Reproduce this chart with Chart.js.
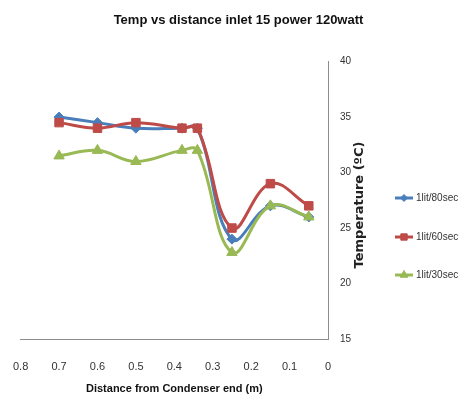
<!DOCTYPE html>
<html>
<head>
<meta charset="utf-8">
<script src="https://cdn.jsdelivr.net/npm/chart.js@4/dist/chart.umd.min.js"></script>
<style>
html,body{margin:0;padding:0;background:#fff;}
#wrap{width:462px;height:406px;}
</style>
</head>
<body>
<div id="wrap"><canvas id="c" width="462" height="406"></canvas></div>
<script>
const distances = [0.7, 0.6, 0.5, 0.38, 0.34, 0.25, 0.15, 0.05];
const seriesNames = ['1lit/80sec', '1lit/60sec', '1lit/30sec'];
const temp80 = [35, 34.5, 34, 34, 34, 24, 27, 26];
const temp60 = [34.5, 34, 34.5, 34, 34, 25, 29, 27];
const temp30 = [31.5, 32, 31, 32, 32, 22.8, 27, 26];
const yTicks = [15, 20, 25, 30, 35, 40];
const xTicks = [0.8, 0.7, 0.6, 0.5, 0.4, 0.3, 0.2, 0.1, 0];

const colors = ['#4A7EBB', '#BE4B48', '#98B954'];
const shapes = ['rectRot', 'rect', 'triangle'];
const radii = [5, 6, 6];
const drawOrder = [2, 1, 0];
const sans = "'Liberation Sans', Arial, sans-serif";

function pts(vals){ return distances.map((d,i)=>({x:d, y:vals[i]})); }

const allSeries = [temp80, temp60, temp30];
const datasets = allSeries.map((v,i)=>({
  label: seriesNames[i],
  data: pts(v),
  order: drawOrder[i],
  borderColor: colors[i],
  backgroundColor: colors[i],
  borderWidth: 3,
  pointStyle: shapes[i],
  pointRadius: radii[i],
  pointHoverRadius: radii[i],
  pointBorderWidth: 1,
  tension: 0.4,
  fill: false
}));

const customDraw = {
  id: 'customDraw',
  afterDraw(chart){
    const ctx = chart.ctx;
    ctx.save();
    ctx.translate(360, 205);
    ctx.rotate(-Math.PI/2);
    ctx.font = "bold 13px 'DejaVu Sans', Verdana, sans-serif";
    ctx.fillStyle = '#222';
    ctx.textAlign = 'center';
    ctx.textBaseline = 'middle';
    ctx.fillText('Temperature (ºC)', 0, 0);
    ctx.restore();

    const ys = [198, 237, 275];
    chart.data.datasets.forEach((ds, i)=>{
      const y = ys[i];
      ctx.save();
      ctx.strokeStyle = ds.borderColor;
      ctx.lineWidth = 3;
      ctx.beginPath();
      ctx.moveTo(395, y); ctx.lineTo(413, y);
      ctx.stroke();
      ctx.fillStyle = ds.backgroundColor;
      ctx.lineWidth = 1;
      Chart.helpers.drawPoint(ctx, {pointStyle: ds.pointStyle, radius: ds.pointRadius - 1.5, rotation: 0, borderWidth: 1}, 404, y);
      ctx.font = "10px " + sans;
      ctx.fillStyle = '#333';
      ctx.textAlign = 'left';
      ctx.textBaseline = 'middle';
      ctx.fillText(ds.label, 416, y);
      ctx.restore();
    });
  }
};

new Chart(document.getElementById('c'), {
  type: 'line',
  data: { datasets },
  plugins: [customDraw],
  options: {
    responsive: false,
    animation: false,
    layout: { padding: { left: 15, right: 0, top: 0, bottom: 0 } },
    plugins: {
      legend: { display: false },
      tooltip: { enabled: false },
      title: {
        display: true,
        text: 'Temp vs distance inlet 15 power 120watt',
        color: '#111',
        font: { family: sans, size: 13, weight: 'bold' },
        padding: { top: 13, bottom: 33 }
      }
    },
    scales: {
      x: {
        type: 'linear',
        reverse: true,
        min: 0, max: 0.8,
        afterBuildTicks(scale){ scale.ticks = xTicks.map(v=>({value:v})); },
        afterFit(scale){ scale.height = 67; },
        ticks: {
          color: '#333',
          font: { family: sans, size: 11 },
          padding: 13,
          maxRotation: 0,
          callback: v => String(v)
        },
        grid: { display: false },
        border: { display: true, color: '#8c8c8c', width: 1 },
        title: {
          display: true,
          text: 'Distance from Condenser end (m)',
          color: '#111',
          font: { family: sans, size: 11, weight: 'bold' },
          padding: { top: 6, bottom: 10 }
        }
      },
      y: {
        type: 'linear',
        position: 'right',
        min: 15, max: 40,
        afterBuildTicks(scale){ scale.ticks = yTicks.map(v=>({value:v})); },
        afterFit(scale){ scale.width = 134; },
        ticks: {
          color: '#333',
          font: { family: sans, size: 10 },
          padding: 4
        },
        grid: { display: false },
        border: { display: true, color: '#8c8c8c', width: 1 }
      }
    }
  }
});
</script>
</body>
</html>
